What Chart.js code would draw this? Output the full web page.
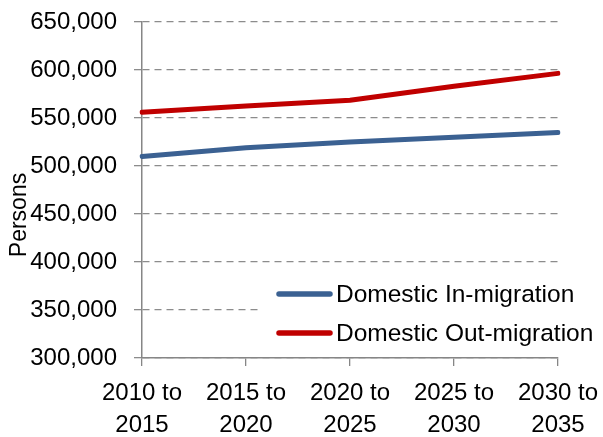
<!DOCTYPE html>
<html>
<head>
<meta charset="utf-8">
<script src="https://cdn.jsdelivr.net/npm/chart.js@4/dist/chart.umd.min.js"></script>
<style>
  html, body { margin: 0; padding: 0; background: #ffffff; }
  #wrap { width: 603px; height: 437px; }
</style>
</head>
<body>
<div id="wrap"><canvas id="c" width="603" height="437"></canvas></div>
<script>
const categories = [["2010 to", "2015"], ["2015 to", "2020"], ["2020 to", "2025"], ["2025 to", "2030"], ["2030 to", "2035"]];
const inMigration = [510000, 519000, 525000, 530000, 535000];
const outMigration = [556000, 562500, 568500, 583000, 596500];
const seriesNames = ["Domestic In-migration", "Domestic Out-migration"];
const seriesColors = ["#3B6192", "#C00000"];
const yMin = 300000, yMax = 650000, yStep = 50000;
const yTitle = "Persons";

const FONT = "'Liberation Sans', Arial, sans-serif";

const overlay = {
  id: 'overlay',
  afterDraw(chart) {
    const ctx = chart.ctx;
    ctx.save();
    ctx.fillStyle = '#000';
    ctx.font = "23px " + FONT;
    ctx.textAlign = 'center';
    ctx.textBaseline = 'middle';
    ctx.translate(20, 215);
    ctx.rotate(-Math.PI / 2);
    ctx.fillText(yTitle, 0, 0);
    ctx.restore();

    ctx.save();
    ctx.fillStyle = '#ffffff';
    ctx.fillRect(262, 276, 341, 78);
    const rows = [294, 333];
    chart.data.datasets.forEach((ds, i) => {
      const y = rows[i];
      ctx.strokeStyle = ds.borderColor;
      ctx.lineWidth = 5.5;
      ctx.lineCap = 'round';
      ctx.beginPath();
      ctx.moveTo(279, y);
      ctx.lineTo(330, y);
      ctx.stroke();
      ctx.fillStyle = '#000';
      ctx.font = "24.5px " + FONT;
      ctx.textAlign = 'left';
      ctx.textBaseline = 'middle';
      ctx.fillText(ds.label, 336, y + 1);
    });
    ctx.restore();
  }
};

function zeroPad(scale) {
  scale.paddingTop = 0; scale.paddingBottom = 0;
  scale.paddingLeft = 0; scale.paddingRight = 0;
}

new Chart(document.getElementById('c'), {
  type: 'line',
  data: {
    labels: categories,
    datasets: [
      { label: seriesNames[0], data: inMigration, borderColor: seriesColors[0], backgroundColor: seriesColors[0],
        borderWidth: 5, pointRadius: 0, pointHoverRadius: 0, tension: 0, borderCapStyle: 'round', borderJoinStyle: 'round', fill: false },
      { label: seriesNames[1], data: outMigration, borderColor: seriesColors[1], backgroundColor: seriesColors[1],
        borderWidth: 5, pointRadius: 0, pointHoverRadius: 0, tension: 0, borderCapStyle: 'round', borderJoinStyle: 'round', fill: false }
    ]
  },
  options: {
    responsive: false,
    animation: false,
    devicePixelRatio: 1,
    layout: { padding: { top: 22, right: 45, left: 0, bottom: 0 } },
    plugins: { legend: { display: false }, tooltip: { enabled: false }, title: { display: false } },
    scales: {
      x: {
        offset: false,
        grid: { display: true, drawOnChartArea: false, drawTicks: true, tickLength: 8, color: '#868686', lineWidth: 1.3 },
        border: { display: true, color: '#868686', width: 1.5 },
        ticks: { color: '#000', font: { family: FONT, size: 24, lineHeight: 1.35 }, padding: 11, maxRotation: 0, autoSkip: false },
        afterFit(scale) { scale.height = 79; zeroPad(scale); }
      },
      y: {
        min: yMin, max: yMax,
        grid: { display: true, color: '#8C8C8C', lineWidth: 1.3, tickLength: 8, tickBorderDash: [], drawTicks: true },
        border: { display: true, color: '#868686', width: 1.5, dash: [7, 5] },
        ticks: {
          stepSize: yStep, color: '#000', padding: 17,
          font: { family: FONT, size: 24 },
          callback: v => v.toLocaleString('en-US')
        },
        afterFit(scale) { scale.width = 142; zeroPad(scale); }
      }
    }
  },
  plugins: [overlay]
});
</script>
</body>
</html>
